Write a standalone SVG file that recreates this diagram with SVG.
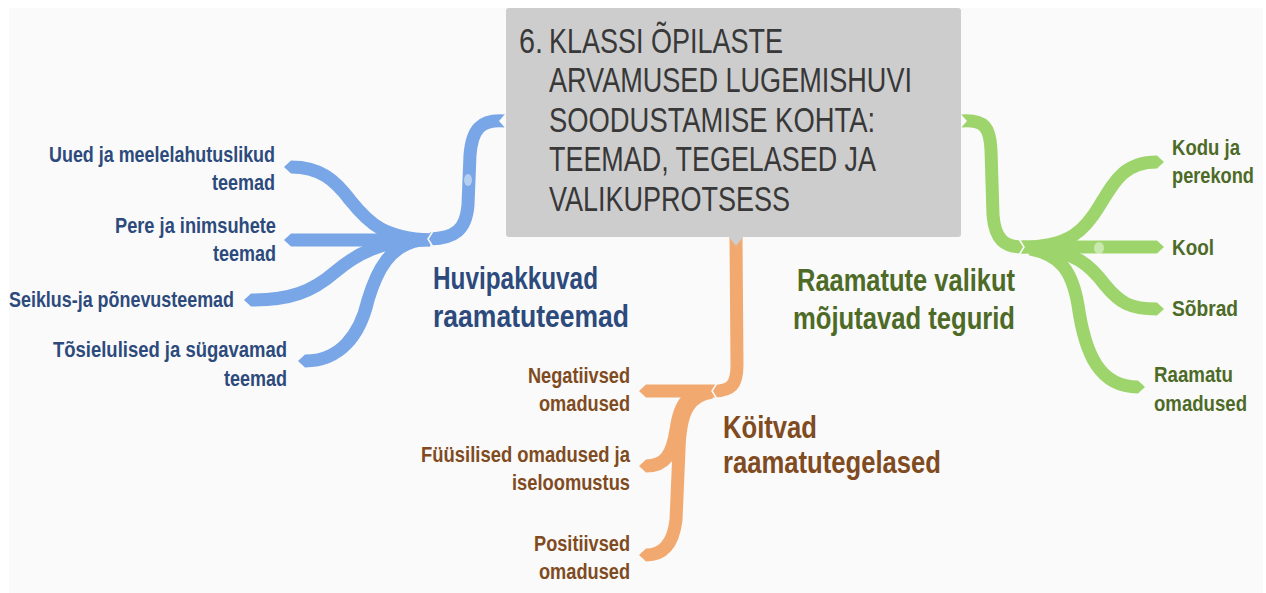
<svg xmlns="http://www.w3.org/2000/svg" width="1266" height="593" viewBox="0 0 1266 593">
<style>
.title{font-family:"Liberation Sans",Arial,sans-serif;font-size:35px;fill:#383838}
.lbl{font-family:"Liberation Sans",Arial,sans-serif;font-size:22px;font-weight:bold}
.head{font-family:"Liberation Sans",Arial,sans-serif;font-size:32px;font-weight:bold}
.blue{fill:#2d4a7c}
.orange{fill:#7f4b1f}
.green{fill:#4d6b27}
.bb{fill:none;stroke:#79a6e6;stroke-width:13}
.ob{fill:none;stroke:#f2a96f;stroke-width:13}
.gb{fill:none;stroke:#9dd56c;stroke-width:13}
.bt{fill:#79a6e6}
.ot{fill:#f2a96f}
.gt{fill:#9dd56c}
.notch{fill:#fafafa}
.cut{fill:none;stroke:#fafafa;stroke-width:1.5}
</style>
<rect x="0" y="0" width="1266" height="593" fill="#ffffff"/>
<rect x="9" y="8" width="1254" height="585" fill="#fafafa"/>

<g id="connectors">
  <path class="bb" d="M505,121 C480,119 472,130 470,155 L468,205 C466,230 455,238 430,239"/>
  <path class="bb" d="M430,240 C385,238 370,225 350,200 C335,180 320,167 291,167"/>
  <path class="bb" d="M430,240 L291,240"/>
  <path class="bb" d="M425,240 C380,240 355,255 335,272 C312,292 290,300 251,300"/>
  <path class="bb" d="M420,240 C390,245 377,270 368,300 C360,335 340,361 305,361"/>
  <polygon class="bt" points="291,160.5 284,167 291,173.5"/>
  <polygon class="bt" points="291,233.5 284,240 291,246.5"/>
  <polygon class="bt" points="251,293.5 244,300 251,306.5"/>
  <polygon class="bt" points="305,354.5 298,361 305,367.5"/>
  <polygon class="notch" points="506,113 499,121 506,129"/>
  <polyline class="cut" points="433,231 428,239 433,247"/>
  <ellipse cx="468" cy="180" rx="4" ry="6" fill="#ffffff" opacity="0.45"/>

  <path class="ob" d="M736,237 L737,365 C737,385 731,391 714,391"/>
  <path class="ob" d="M714,391 L646,391"/>
  <path class="ob" d="M712,392 C690,392 680,400 676,430 C672,455 665,466 646,466"/>
  <path class="ob" d="M712,392 C690,395 680,410 679,450 L676,520 C673,545 662,555 646,555"/>
  <polygon class="ot" points="646,384.5 639,391 646,397.5"/>
  <polygon class="ot" points="646,459.5 639,466 646,472.5"/>
  <polygon class="ot" points="646,548.5 639,555 646,561.5"/>
  <polygon fill="#cdcdcd" points="728,236 736,246 744,236"/>
  <polyline class="cut" points="717,383 712,391 717,399"/>

  <path class="gb" d="M961,121 C985,119 990,128 991,150 L993,215 C995,240 1005,247 1022,247"/>
  <path class="gb" d="M1022,247 C1070,247 1085,230 1100,205 C1115,180 1125,162 1157,162"/>
  <path class="gb" d="M1022,247 L1157,247"/>
  <path class="gb" d="M1040,249 C1075,252 1090,265 1105,285 C1120,303 1130,309 1157,309"/>
  <path class="gb" d="M1030,249 C1060,255 1072,270 1078,305 C1085,355 1100,387 1138,387"/>
  <polygon class="gt" points="1157,155.5 1164,162 1157,168.5"/>
  <polygon class="gt" points="1157,240.5 1164,247 1157,253.5"/>
  <polygon class="gt" points="1157,302.5 1164,309 1157,315.5"/>
  <polygon class="gt" points="1138,380.5 1145,387 1138,393.5"/>
  <polygon class="notch" points="960,113 967,121 960,129"/>
  <polyline class="cut" points="1019,239 1024,247 1019,255"/>
  <ellipse cx="1099" cy="248" rx="5" ry="6" fill="#ffffff" opacity="0.45"/>
</g>

<g id="center">
  <rect x="506" y="8" width="455" height="229" rx="3" fill="#cdcdcd"/>
  <text class="title" x="519" y="53" textLength="24" lengthAdjust="spacingAndGlyphs">6.</text>
  <text class="title" x="549" y="53" textLength="234" lengthAdjust="spacingAndGlyphs">KLASSI ÕPILASTE</text>
  <text class="title" x="549" y="92" textLength="363" lengthAdjust="spacingAndGlyphs">ARVAMUSED LUGEMISHUVI</text>
  <text class="title" x="549" y="132" textLength="326" lengthAdjust="spacingAndGlyphs">SOODUSTAMISE KOHTA:</text>
  <text class="title" x="549" y="171" textLength="327" lengthAdjust="spacingAndGlyphs">TEEMAD, TEGELASED JA</text>
  <text class="title" x="549" y="211" textLength="241" lengthAdjust="spacingAndGlyphs">VALIKUPROTSESS</text>
</g>

<g id="blue-main">
  <text class="head blue" x="433" y="289" textLength="165" lengthAdjust="spacingAndGlyphs">Huvipakkuvad</text>
  <text class="head blue" x="433" y="327" textLength="196" lengthAdjust="spacingAndGlyphs">raamatuteemad</text>
</g>
<g id="blue-1" text-anchor="end">
  <text class="lbl blue" x="275" y="162" textLength="226" lengthAdjust="spacingAndGlyphs">Uued ja meelelahutuslikud</text>
  <text class="lbl blue" x="275" y="190" textLength="63" lengthAdjust="spacingAndGlyphs">teemad</text>
</g>
<g id="blue-2" text-anchor="end">
  <text class="lbl blue" x="276" y="233" textLength="161" lengthAdjust="spacingAndGlyphs">Pere ja inimsuhete</text>
  <text class="lbl blue" x="276" y="261" textLength="63" lengthAdjust="spacingAndGlyphs">teemad</text>
</g>
<g id="blue-3" text-anchor="end">
  <text class="lbl blue" x="234" y="307" textLength="225" lengthAdjust="spacingAndGlyphs">Seiklus-ja põnevusteemad</text>
</g>
<g id="blue-4" text-anchor="end">
  <text class="lbl blue" x="287" y="357" textLength="234" lengthAdjust="spacingAndGlyphs">Tõsielulised ja sügavamad</text>
  <text class="lbl blue" x="287" y="386" textLength="63" lengthAdjust="spacingAndGlyphs">teemad</text>
</g>

<g id="orange-main">
  <text class="head orange" x="723" y="438" textLength="94" lengthAdjust="spacingAndGlyphs">Köitvad</text>
  <text class="head orange" x="723" y="473" textLength="218" lengthAdjust="spacingAndGlyphs">raamatutegelased</text>
</g>
<g id="orange-1" text-anchor="end">
  <text class="lbl orange" x="630" y="383" textLength="102" lengthAdjust="spacingAndGlyphs">Negatiivsed</text>
  <text class="lbl orange" x="630" y="411" textLength="91" lengthAdjust="spacingAndGlyphs">omadused</text>
</g>
<g id="orange-2" text-anchor="end">
  <text class="lbl orange" x="630" y="462" textLength="209" lengthAdjust="spacingAndGlyphs">Füüsilised omadused ja</text>
  <text class="lbl orange" x="630" y="490" textLength="118" lengthAdjust="spacingAndGlyphs">iseloomustus</text>
</g>
<g id="orange-3" text-anchor="end">
  <text class="lbl orange" x="630" y="551" textLength="96" lengthAdjust="spacingAndGlyphs">Positiivsed</text>
  <text class="lbl orange" x="630" y="579" textLength="91" lengthAdjust="spacingAndGlyphs">omadused</text>
</g>

<g id="green-main">
  <text class="head green" x="797" y="291" textLength="218" lengthAdjust="spacingAndGlyphs">Raamatute valikut</text>
  <text class="head green" x="793" y="329" textLength="222" lengthAdjust="spacingAndGlyphs">mõjutavad tegurid</text>
</g>
<g id="green-1">
  <text class="lbl green" x="1172" y="155" textLength="68" lengthAdjust="spacingAndGlyphs">Kodu ja</text>
  <text class="lbl green" x="1172" y="183" textLength="82" lengthAdjust="spacingAndGlyphs">perekond</text>
</g>
<g id="green-2">
  <text class="lbl green" x="1172" y="255" textLength="42" lengthAdjust="spacingAndGlyphs">Kool</text>
</g>
<g id="green-3">
  <text class="lbl green" x="1172" y="316" textLength="66" lengthAdjust="spacingAndGlyphs">Sõbrad</text>
</g>
<g id="green-4">
  <text class="lbl green" x="1154" y="382" textLength="79" lengthAdjust="spacingAndGlyphs">Raamatu</text>
  <text class="lbl green" x="1154" y="411" textLength="93" lengthAdjust="spacingAndGlyphs">omadused</text>
</g>
</svg>
